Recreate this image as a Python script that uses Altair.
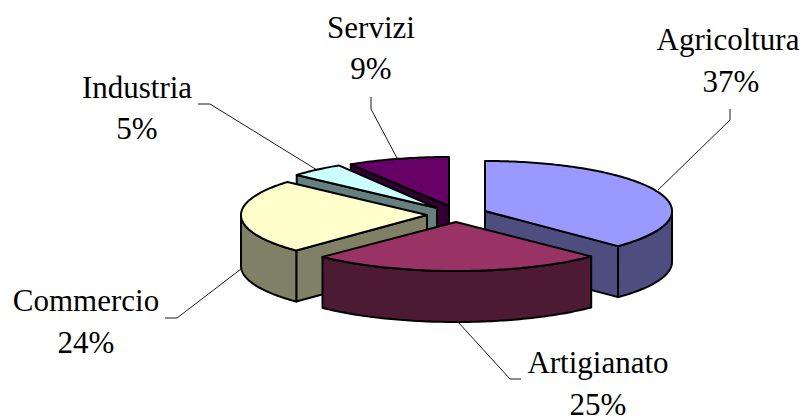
import numpy as np
import altair as alt

# chart values
names = ["Agricoltura", "Artigianato", "Commercio", "Industria", "Servizi"]
shares = [37.4, 25.0, 24.1, 4.7, 8.8]

top_colors = ["#9999FF", "#993366", "#FFFFCC", "#CCFFFF", "#660066"]
side_colors = ["#4D4D80", "#4D1A33", "#808066", "#668080", "#330033"]

# layout of the exploded slices (page pixels)
apex_x = [485, 456, 427, 437, 449]
apex_y = [211, 222, 215, 208, 206]
radius_x = [187, 190, 186, 187, 187]
radius_y = [50, 49, 50, 50, 49]
depth = 51
draw_order = [4, 3, 2, 0, 1]

# label layout
label_x1 = [728, 598, 86, 137, 371]
label_x2 = [731, 598, 86, 137, 371]
label_y1 = [50, 373, 311, 98, 38]
label_y2 = [92, 415, 353, 139, 79]
leader_x = [[730, 730, 658], [521, 510, 458], [165, 177, 241], [198, 210, 317], [371, 371, 397]]
leader_y = [[109, 120, 190], [379, 379, 322], [318, 318, 269], [104, 104, 170], [97, 109, 158]]

edges = np.concatenate([[0], np.cumsum(shares)]) * 3.6


def arc(i, a, b, dy=0.0):
    angles = np.radians(np.linspace(a, b, max(2, int(abs(b - a)) + 2)))
    return [[float(apex_x[i] + radius_x[i] * np.sin(t)),
             float(apex_y[i] - radius_y[i] * np.cos(t) + dy)] for t in angles]


def polygon(points, color):
    ring = points + [points[0]]
    return {"type": "Feature",
            "geometry": {"type": "Polygon", "coordinates": [ring]},
            "properties": {"color": color}}


faces = []
for i in draw_order:
    start, end = float(edges[i]), float(edges[i + 1])
    apex = [float(apex_x[i]), float(apex_y[i])]
    apex_low = [apex[0], apex[1] + depth]
    # radial wall at the slice's start, when it faces the viewer
    if 180 < start < 360:
        c = arc(i, start, start)[0]
        faces.append(polygon([c, apex, apex_low, [c[0], c[1] + depth]], side_colors[i]))
    # radial wall at the slice's end, when it faces the viewer
    if 0 < end < 180:
        c = arc(i, end, end)[0]
        faces.append(polygon([apex, c, [c[0], c[1] + depth], apex_low], side_colors[i]))
    # outer curved wall
    a, b = max(start, 90.0), min(end, 270.0)
    if a < b:
        upper = arc(i, a, b)
        lower = arc(i, b, a, depth)
        faces.append(polygon(upper + lower, side_colors[i]))
    # top face
    faces.append(polygon([apex] + arc(i, start, end), top_colors[i]))

leaders = [{"type": "Feature",
            "geometry": {"type": "LineString",
                         "coordinates": [[lx, ly] for lx, ly in zip(xs, ys)]},
            "properties": {"name": n}}
           for n, xs, ys in zip(names, leader_x, leader_y)]

rows = []
for n, s, x1, x2, y1, y2 in zip(names, shares, label_x1, label_x2, label_y1, label_y2):
    rows.append({"text": n, "x": x1, "y": y1})
    rows.append({"text": f"{round(s)}%", "x": x2, "y": y2})

W, H = 792, 411
proj = dict(type="identity", scale=1, translate=[-8, -8])

leader_layer = alt.Chart(alt.Data(values=leaders)).mark_geoshape(
    filled=False, stroke="#000000", strokeWidth=0.9
).project(**proj)

face_layer = alt.Chart(alt.Data(values=faces)).mark_geoshape(
    stroke="#000000", strokeWidth=2, strokeJoin="round"
).encode(fill=alt.Fill("properties.color:N", scale=None, legend=None)).project(**proj)

text_layer = alt.Chart(alt.Data(values=rows)).mark_text(
    font="Liberation Serif", fontSize=31, color="#000000",
    align="center", baseline="alphabetic"
).encode(
    x=alt.X("x:Q", axis=None, scale=alt.Scale(domain=[8, 8 + W], range=[0, W], nice=False, zero=False)),
    y=alt.Y("y:Q", axis=None, scale=alt.Scale(domain=[8, 8 + H], range=[0, H], nice=False, zero=False)),
    text="text:N",
)

chart = alt.layer(leader_layer, face_layer, text_layer).properties(
    width=W, height=H, padding=0, autosize=alt.AutoSizeParams(type="none"),
    background="#ffffff"
).configure_view(stroke=None)

chart.save("out.html", embed_options={"renderer": "svg", "actions": False})
